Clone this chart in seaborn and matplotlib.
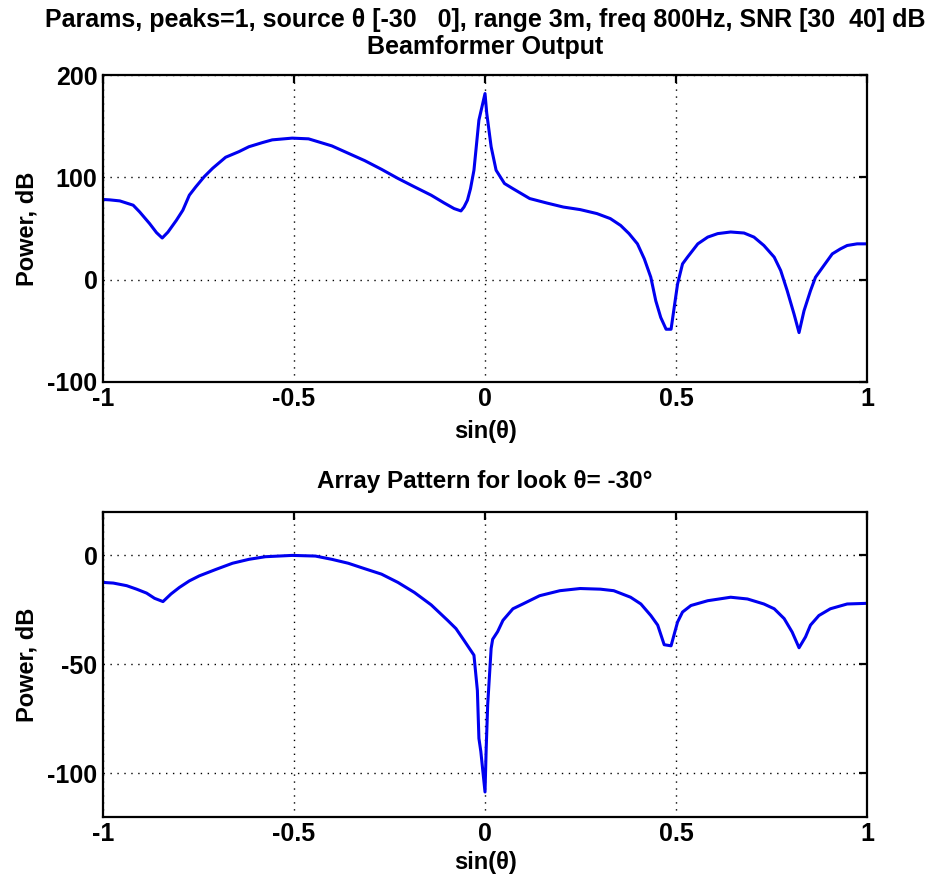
import numpy as np
import pandas as pd
import matplotlib
matplotlib.use("Agg")
import matplotlib.pyplot as plt
import seaborn as sns
from matplotlib import font_manager

# ---- data ----
bf_sin = [-1.0, -0.982, -0.956, -0.921, -0.904, -0.878, -0.86, -0.845, -0.83, -0.808,
          -0.791, -0.774, -0.757, -0.735, -0.713, -0.679, -0.644, -0.618, -0.583, -0.557,
          -0.505, -0.462, -0.401, -0.358, -0.315, -0.271, -0.228, -0.185, -0.141, -0.107,
          -0.081, -0.063, -0.055, -0.046, -0.038, -0.029, -0.016, 0.0, 0.0044, 0.016,
          0.029, 0.051, 0.073, 0.117, 0.161, 0.205, 0.249, 0.293, 0.328, 0.355,
          0.377, 0.399, 0.417, 0.434, 0.447, 0.46, 0.474, 0.487, 0.504, 0.517,
          0.530, 0.557, 0.583, 0.609, 0.643, 0.678, 0.704, 0.730, 0.757, 0.774,
          0.791, 0.809, 0.822, 0.835, 0.852, 0.865, 0.887, 0.909, 0.930, 0.948,
          0.974, 1.0]
bf_power = [78.4, 78, 77, 72.8, 66.2, 54.8, 46, 40.7, 46.5, 58,
            67.9, 82.6, 90.8, 100.7, 108.9, 119.7, 125.2, 130, 134, 136.7,
            138.4, 137.7, 130.8, 123.6, 116.4, 107.9, 99, 90.8, 82.6, 75,
            69.5, 67.2, 71, 77.7, 89, 107, 156, 182, 163, 130,
            107, 94, 89, 79.3, 75, 71, 68.5, 64.6, 59.7, 53,
            45, 35, 20.3, 2.3, -20.7, -37, -48.5, -48.5, -4.3, 15.4,
            22, 35, 41.6, 45, 46.6, 45.6, 41.6, 33.4, 22, 8.9,
            -10.8, -33.8, -51.8, -30.5, -10.8, 2.3, 13.8, 25.2, 30, 33.4,
            35, 35]

ap_sin = [-1.0, -0.973, -0.938, -0.912, -0.886, -0.865, -0.843, -0.822, -0.8, -0.774,
          -0.748, -0.704, -0.661, -0.618, -0.575, -0.505, -0.444, -0.401, -0.358, -0.315,
          -0.271, -0.228, -0.185, -0.141, -0.098, -0.076, -0.055, -0.029, -0.020, -0.016,
          -0.011, 0.0, 0.003, 0.007, 0.016, 0.020, 0.033, 0.047, 0.073, 0.099,
          0.143, 0.196, 0.249, 0.302, 0.337, 0.381, 0.408, 0.434, 0.452, 0.469,
          0.487, 0.504, 0.517, 0.539, 0.583, 0.643, 0.687, 0.730, 0.757, 0.783,
          0.804, 0.822, 0.839, 0.852, 0.874, 0.904, 0.948, 1.0]
ap_power = [-12.4, -12.7, -13.9, -15.5, -17.3, -19.7, -21.2, -17.7, -14.7, -11.7,
            -9.4, -6.4, -3.6, -1.8, -0.6, 0, -0.3, -1.8, -3.6, -6.1,
            -8.6, -12.4, -17, -22.7, -29.8, -33.6, -39, -45.8, -62, -84,
            -90, -108.6, -89, -68.5, -42.7, -38.5, -35, -29.8, -24.5, -22.3,
            -18.5, -16.2, -15.2, -15.5, -16.2, -19.2, -22.3, -27.6, -32, -41,
            -41.5, -30.6, -26, -23, -20.8, -19.2, -20, -22.3, -24.5, -29,
            -35.2, -42.4, -37.4, -32, -27.6, -24.5, -22.3, -22]

top_yticks = [-100, 0, 100, 200]
bot_yticks = [-100, -50, 0]
xticks = [-1, -0.5, 0, 0.5, 1]
xtick_labels = ["-1", "-0.5", "0", "0.5", "1"]

suptitle = "Params, peaks=1, source θ [-30   0], range 3m, freq 800Hz, SNR [30  40] dB\nBeamformer Output"
bot_title = "Array Pattern for look θ= -30°"

# ---- style ----
sns.set_style("white")
names = {f.name for f in font_manager.fontManager.ttflist}
main = "Liberation Sans Narrow" if "Liberation Sans Narrow" in names else "Liberation Sans"
plt.rcParams["font.family"] = [main, "DejaVu Sans"]
plt.rcParams["font.weight"] = "bold"
plt.rcParams["text.color"] = "black"
plt.rcParams["axes.labelcolor"] = "black"
plt.rcParams["xtick.color"] = "black"
plt.rcParams["ytick.color"] = "black"

fig = plt.figure(figsize=(9.45, 8.84), dpi=100)
ax1 = fig.add_axes([0.109, 0.568, 0.8085, 0.347])
ax2 = fig.add_axes([0.109, 0.076, 0.8085, 0.345])

df1 = pd.DataFrame({"x": bf_sin, "y": bf_power})
df2 = pd.DataFrame({"x": ap_sin, "y": ap_power})
sns.lineplot(data=df1, x="x", y="y", ax=ax1, color="#0000f0", linewidth=2.2, sort=False)
sns.lineplot(data=df2, x="x", y="y", ax=ax2, color="#0000f0", linewidth=2.2, sort=False)

for ax, yt, ylim in [(ax1, top_yticks, (-100, 200)), (ax2, bot_yticks, (-120, 20))]:
    ax.set_xlim(-1, 1)
    ax.set_ylim(*ylim)
    ax.set_xticks(xticks)
    ax.set_xticklabels(xtick_labels)
    ax.set_yticks(yt)
    ax.set_yticklabels([str(v) for v in yt])
    ax.grid(True, linestyle=(0, (1, 4)), color="black", linewidth=1.0)
    for s in ax.spines.values():
        s.set_color("black")
        s.set_linewidth(1.6)
    ax.tick_params(direction="in", length=6, width=1.6, top=True, right=True,
                   labelsize=18, pad=4, colors="black")
    for lab in ax.get_xticklabels() + ax.get_yticklabels():
        lab.set_fontweight("bold")
    ax.set_ylabel("Power, dB", fontsize=17, fontweight="bold", labelpad=6)

ax1.set_xlabel("sin(θ)", fontsize=17, fontweight="bold", labelpad=6)
ax2.set_xlabel("sin(θ)", fontsize=17, fontweight="bold", labelpad=3)
ax1.set_title(suptitle, fontsize=18, fontweight="bold", pad=15, linespacing=1.18)
ax2.set_title(bot_title, fontsize=17.5, fontweight="bold", pad=17)

fig.savefig("out.png", dpi=100, facecolor="white")
